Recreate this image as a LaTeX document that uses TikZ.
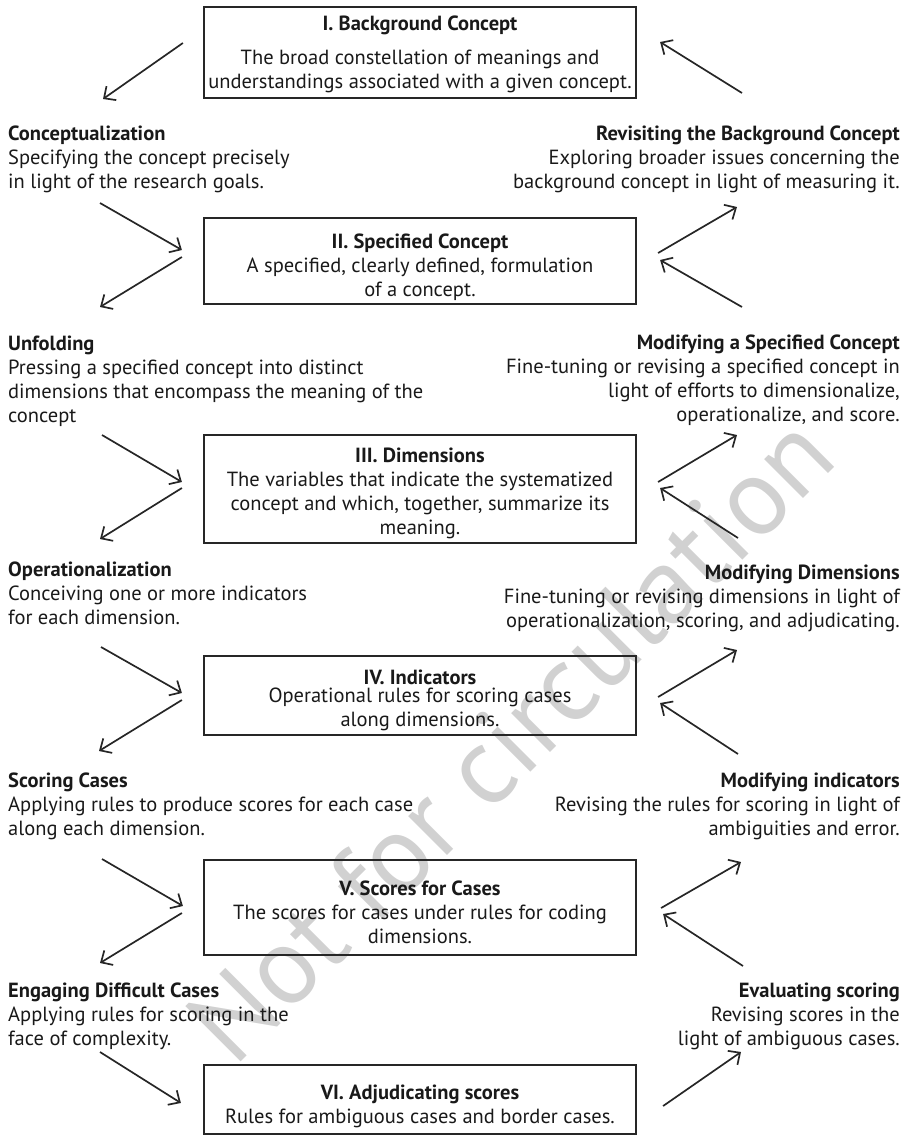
\documentclass[tikz,border=0pt]{standalone}
\usepackage{fontspec}
\setmainfont{PT Sans}
\usetikzlibrary{arrows.meta, positioning}

% title line with a taller strut, to push the box text down a little
\newcommand{\stagetitle}[2]{\textbf{\rule{0pt}{#1}#2}}

\begin{document}
\begin{tikzpicture}[
  x=1pt, y=-1pt,
  every node/.style={font=\fontsize{20.5}{24}\selectfont, text=black!90},
  stage/.style={draw=black!85, line width=2.2pt, minimum width=432pt,
                align=center, inner sep=0pt},
  leftlbl/.style={anchor=north west, align=left, inner sep=0pt},
  rightlbl/.style={anchor=north east, align=right, inner sep=0pt},
  flow/.style={-{Straight Barb[length=9pt, width=17pt]}, line width=1.7pt, black!85}
]
  \useasboundingbox (0,0) rectangle (907,1136);

  % watermark
  \node[rotate=45, font=\fontsize{110}{110}\selectfont, text=black!18] (wm) at (510,738) {Not for circulation};

  % stages
  \node[stage, minimum height=91pt] (bg) at (420,52.5)
    {\stagetitle{18pt}{I. Background Concept}\\[10pt]The broad constellation of meanings and\\understandings associated with a given concept.};
  \node[stage, minimum height=86pt] (spec) at (420,261)
    {\stagetitle{28pt}{II. Specified Concept}\\A specified, clearly defined, formulation\\of a concept.};
  \node[stage, minimum height=108pt] (dim) at (420,489)
    {\stagetitle{24pt}{III. Dimensions}\\The variables that indicate the systematized\\concept and which, together, summarize its\\meaning.};
  \node[stage, minimum height=79pt] (ind) at (420,695.5)
    {\stagetitle{24pt}{IV. Indicators}\\[-6pt]Operational rules for scoring cases\\along dimensions.};
  \node[stage, minimum height=95pt] (score) at (420,907.5)
    {\stagetitle{24pt}{V. Scores for Cases}\\The scores for cases under rules for coding\\dimensions.};
  \node[stage, minimum height=69pt] (adj) at (420,1099.5)
    {\stagetitle{29pt}{VI. Adjudicating scores}\\Rules for ambiguous cases and border cases.};

  % steps down the left
  \node[leftlbl] (concl) at (8,126)
    {\textbf{Conceptualization}\\Specifying the concept precisely\\in light of the research goals.};
  \node[leftlbl] (unfold) at (8,336)
    {\textbf{Unfolding}\\Pressing a specified concept into distinct\\dimensions that encompass the meaning of the\\concept};
  \node[leftlbl] (oper) at (8,562)
    {\textbf{Operationalization}\\Conceiving one or more indicators\\for each dimension.};
  \node[leftlbl] (scoring) at (8,773)
    {\textbf{Scoring Cases}\\Applying rules to produce scores for each case\\along each dimension.};
  \node[leftlbl] (engage) at (8,983)
    {\textbf{Engaging Difficult Cases}\\Applying rules for scoring in the\\face of complexity.};

  % steps back up the right
  \node[rightlbl] (revisit) at (900,126)
    {\textbf{Revisiting the Background Concept}\\Exploring broader issues concerning the\\background concept in light of measuring it.};
  \node[rightlbl] (modspec) at (900,335)
    {\textbf{Modifying a Specified Concept}\\Fine-tuning or revising a specified concept in\\light of efforts to dimensionalize,\\operationalize, and score.};
  \node[rightlbl] (moddim) at (900,565)
    {\textbf{Modifying Dimensions}\\Fine-tuning or revising dimensions in light of\\operationalization, scoring, and adjudicating.};
  \node[rightlbl] (modind) at (900,773)
    {\textbf{Modifying indicators}\\Revising the rules for scoring in light of\\ambiguities and error.};
  \node[rightlbl] (evalsc) at (900,983)
    {\textbf{Evaluating scoring}\\Revising scores in the\\light of ambiguous cases.};

  % free ends of the arrows
  \coordinate (l1) at (103,99);
  \coordinate (l2) at (100,203);
  \coordinate (l3) at (100,307);
  \coordinate (l4) at (102,435);
  \coordinate (l5) at (100,539);
  \coordinate (l6) at (101,647);
  \coordinate (l7) at (99,751);
  \coordinate (l8) at (102,859);
  \coordinate (l9) at (100,963);
  \coordinate (l10) at (100,1052);
  \coordinate (r1) at (742,93);
  \coordinate (r2) at (737,207);
  \coordinate (r3) at (742,307);
  \coordinate (r4) at (737,435);
  \coordinate (r5) at (738,538);
  \coordinate (r6) at (737,650);
  \coordinate (r7) at (738,754);
  \coordinate (r8) at (741,862);
  \coordinate (r9) at (743,966);
  \coordinate (r10) at (741,1052);

  % left side
  \draw[flow] ([shift={(-20,-9.5)}]bg.west) -- (l1);
  \draw[flow] (l2) -- ([shift={(-21,-11)}]spec.west);
  \draw[flow] ([shift={(-21,-4)}]spec.west) -- (l3);
  \draw[flow] (l4) -- ([shift={(-21,-7)}]dim.west);
  \draw[flow] ([shift={(-21,-1)}]dim.west) -- (l5);
  \draw[flow] (l6) -- ([shift={(-21,-2.5)}]ind.west);
  \draw[flow] ([shift={(-21,4.5)}]ind.west) -- (l7);
  \draw[flow] (l8) -- ([shift={(-20,-1.5)}]score.west);
  \draw[flow] ([shift={(-21,5.5)}]score.west) -- (l9);
  \draw[flow] (l10) -- ([shift={(-22,3.5)}]adj.west);

  % right side
  \draw[flow] (r1) -- ([shift={(23,-10.5)}]bg.east);
  \draw[flow] ([shift={(21,-8)}]spec.east) -- (r2);
  \draw[flow] (r3) -- ([shift={(23,-1)}]spec.east);
  \draw[flow] ([shift={(21,-7)}]dim.east) -- (r4);
  \draw[flow] (r5) -- ([shift={(23,-1)}]dim.east);
  \draw[flow] ([shift={(21,1.5)}]ind.east) -- (r6);
  \draw[flow] (r7) -- ([shift={(23,7.5)}]ind.east);
  \draw[flow] ([shift={(24,0.5)}]score.east) -- (r8);
  \draw[flow] (r9) -- ([shift={(26,6.5)}]score.east);
  \draw[flow] ([shift={(26,6.5)}]adj.east) -- (r10);
\end{tikzpicture}
\end{document}
